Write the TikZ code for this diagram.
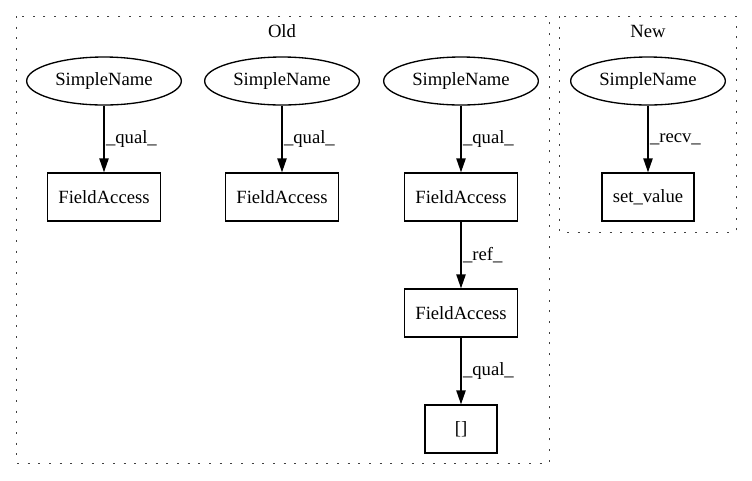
\documentclass[tikz,border=0pt]{standalone}
\usepackage{fontspec}
\setmainfont{Liberation Serif}
\usetikzlibrary{shapes.geometric,arrows.meta,positioning}
\tikzset
{
    namenode/.style   = {ellipse, draw=black, align=center, minimum width=116pt, minimum height=36pt, inner sep=0pt},
    accessnode/.style = {rectangle, draw=black, align=center, minimum width=54pt, minimum height=36pt, inner xsep=8pt},
    cluster/.style    = {draw=black!75, line width=0.75pt, dash pattern=on 1.5pt off 6.5pt},
    edgelabel/.style  = {right, inner sep=1pt}
}

\begin{document}
\begin{tikzpicture}[x=0.75pt, y=-0.75pt, ->, >={Triangle[length=10.5pt,width=7pt]}, line width=1pt, font=\fontsize{14pt}{16pt}\selectfont]
\useasboundingbox (0,0) rectangle (752,480);
\draw [cluster, -] (16,16) rectangle (549,463);
\draw [cluster, -] (559,16) rectangle (736,232);
\node at (282,31) (old) {Old};
\node at (648,31) (new) {New};
\node [namenode] at (104,81) (sn1) {SimpleName};
\node [accessnode] at (104,197) (fa1) {FieldAccess};
\node [namenode] at (282,81) (sn2) {SimpleName};
\node [accessnode] at (282,197) (fa2) {FieldAccess};
\node [namenode] at (461,81) (sn3) {SimpleName};
\node [accessnode] at (461,197) (fa3) {FieldAccess};
\node [accessnode] at (461,313) (fa4) {FieldAccess};
\node [accessnode] at (461,429) (idx) {[]};
\node [namenode] at (648,81) (sn4) {SimpleName};
\node [accessnode] at (648,197) (setv) {set\_value};
\draw (sn1) edge node [edgelabel] {\_qual\_} (fa1);
\draw (sn2) edge node [edgelabel] {\_qual\_} (fa2);
\draw (sn3) edge node [edgelabel] {\_qual\_} (fa3);
\draw (fa3) edge node [edgelabel] {\_ref\_} (fa4);
\draw (fa4) edge node [edgelabel] {\_qual\_} (idx);
\draw (sn4) edge node [edgelabel] {\_recv\_} (setv);
\end{tikzpicture}
\end{document}
